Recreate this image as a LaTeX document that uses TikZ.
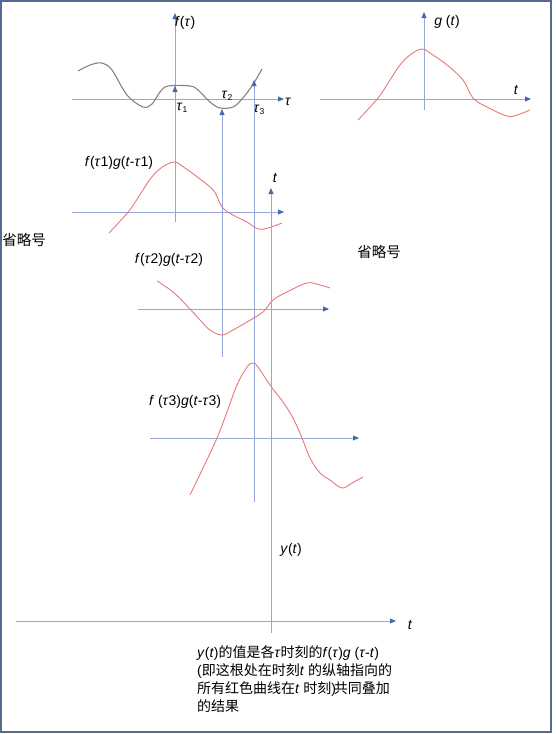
\documentclass[tikz,border=0pt]{standalone}
\usepackage{fontspec}
\setmainfont{Liberation Sans}
\newfontfamily\cjk{Noto Sans CJK SC}
\usetikzlibrary{arrows.meta}
\definecolor{axisc}{RGB}{150,168,215}
\definecolor{tipc}{RGB}{70,105,175}
\definecolor{redc}{RGB}{230,120,120}
\definecolor{grayc}{RGB}{130,130,130}
\definecolor{framec}{RGB}{85,105,145}
\newcommand\iv[1]{\textit{#1}}
\newcommand\subn[1]{\raisebox{-2.5pt}{\fontsize{8.5}{8.5}\selectfont #1}}
\tikzset{
 axisline/.style={draw=axisc, line width=0.8pt},
 arr/.style={axisline, -{Triangle[length=6pt,width=5pt,color=tipc]}},
 redcurve/.style={draw=redc, line width=0.9pt},
 graycurve/.style={draw=grayc, line width=1.1pt},
 lbl/.style={inner sep=0pt, font=\fontsize{14}{16}\selectfont},
 zh/.style={inner sep=0pt, font=\fontsize{14.5}{18}\selectfont\cjk},
}
\begin{document}
\begin{tikzpicture}[x=1pt,y=-1pt]
\useasboundingbox (0,0) rectangle (555,734);
\draw[framec, line width=1.5pt] (1,1) rectangle (551,732);

% ---- f(tau) graph
\draw[arr] (175,222) -- (175,13);
\draw[arr] (72,99) -- (284,99);
\draw[graycurve] plot[smooth, tension=0.55] coordinates {(78,71) (90,65) (102,63) (112,70) (127,95) (143,107) (152,104) (160,92) (168,86) (190,86) (198,90) (210,102) (220,108) (233,107) (242,99) (252,86) (262,69)};
\node[lbl] (ftau) at (185,23) {\iv{f}(\iv{τ})};
\node[lbl] (taulab) at (288,102) {\iv{τ}};
\node[lbl] (t1) at (182,108) {\iv{τ}\subn{1}};
\node[lbl] (t2) at (227,96) {\iv{τ}\subn{2}};
\node[lbl] (t3) at (259,110) {\iv{τ}\subn{3}};

% ---- vertical arrows from tau_i
\draw[arr] (175,162) -- (175,86);
\draw[arr] (222,357) -- (222,109);
\draw[arr] (254,502) -- (254,80);

% ---- g(t) graph
\draw[arr] (424,110) -- (424,12);
\draw[arr] (320,99) -- (531,99);
\draw[redcurve] plot[smooth, tension=0.6] coordinates {(358,120) (378,98) (390,80) (400,65) (410,55) (422,49) (433,55) (447,65) (463,80) (473,98) (487,107) (507,116) (517,115) (530,110)};
\node[lbl] (glab) at (447,22) {\iv{g} (\iv{t})};
\node[lbl] (gt) at (516,90) {\iv{t}};

% ---- f(tau1)g(t-tau1)
\draw[arr] (72,212) -- (284,212);
\draw[redcurve] plot[smooth, tension=0.6] coordinates {(109,233) (129,211) (141,193) (151,178) (161,168) (174,162) (185,168) (200,179) (214,191) (222,207) (233,215) (247,222) (258,229) (268,228) (282,223)};
\node[lbl] (l1) at (119,163) {\iv{f}(\iv{τ}1)\iv{g}(\iv{t}-\iv{τ}1)};

% ---- f(tau2)g(t-tau2)
\draw[arr] (138,309) -- (329,309);
\draw[redcurve] plot[smooth, tension=0.6] coordinates {(157,281) (173,292) (190,309) (200,320) (210,330) (222,335) (233,330) (247,322) (263,312) (273,300) (287,292) (307,283) (320,285) (330,288)};
\node[lbl] (l2) at (169,260) {\iv{f}(\iv{τ}2)\iv{g}(\iv{t}-\iv{τ}2)};

% ---- f(tau3)g(t-tau3)
\draw[arr] (150,438) -- (359,438);
\draw[redcurve] plot[smooth, tension=0.6] coordinates {(190,495) (203,468) (217,438) (227,412) (237,385) (247,367) (253,363) (258,367) (270,385) (283,402) (293,418) (302,438) (310,458) (320,473) (330,480) (342,488) (352,483) (363,477)};
\node[lbl] (l3) at (185,402) {\iv{f} (\iv{τ}3)\iv{g}(\iv{t}-\iv{τ}3)};

% ---- y(t) graph
\draw[arr] (271,633) -- (271,188);
\draw[arr] (16,621) -- (396,621);
\node[lbl] (ytop) at (275,178) {\iv{t}};
\node[lbl] (ylab) at (291,550) {\iv{y}(\iv{t})};
\node[lbl] (yt) at (410,625) {\iv{t}};

% ---- side notes
\node[zh] (om1) at (24,240) {省略号};
\node[zh] (om2) at (379,252) {省略号};

% ---- explanation
\node[inner sep=0pt, anchor=north west, align=left, font=\fontsize{14}{18}\selectfont] (expl) at (197,645) {%
\iv{y}(\iv{t}){\cjk 的值是各}\iv{τ}{\cjk 时刻的}\iv{f}(\iv{τ})\iv{g} (\iv{τ}-\iv{t})\\
({\cjk 即这根处在时刻}\iv{t} {\cjk 的纵轴指向的}\\
{\cjk 所有红色曲线在}\iv{t} {\cjk 时刻})\!{\cjk 共同叠加}\\
{\cjk 的结果}};
\end{tikzpicture}
\end{document}
